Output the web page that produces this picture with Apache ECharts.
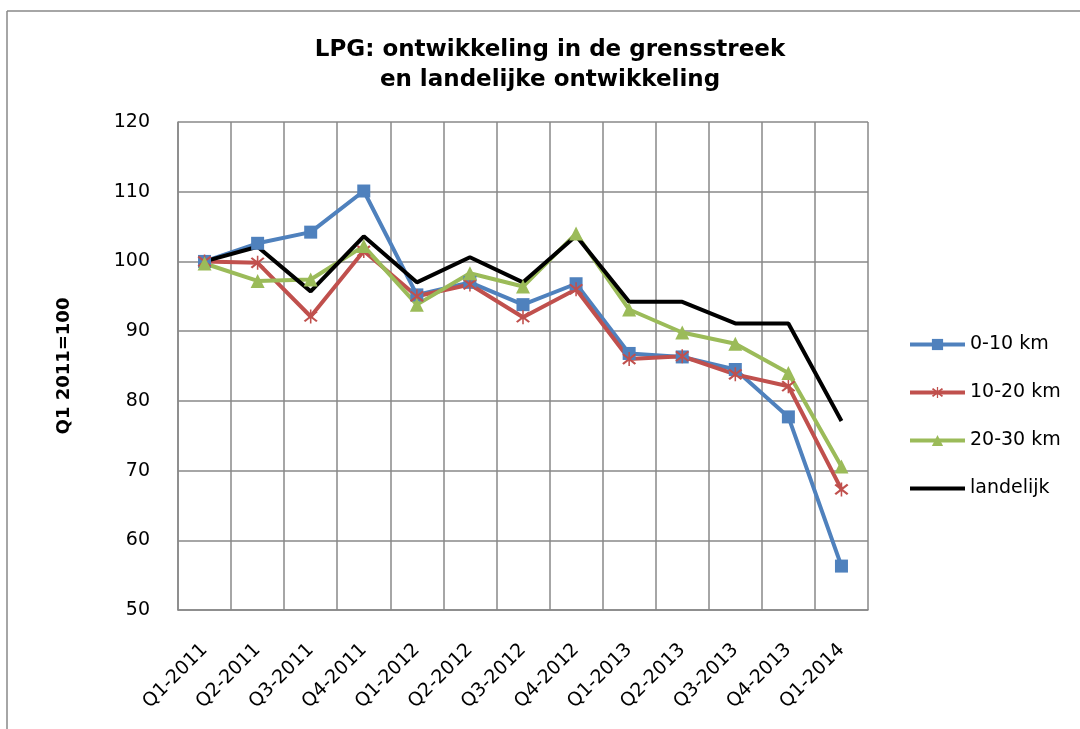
<!DOCTYPE html>
<html>
<head>
<meta charset="utf-8">
<script src="https://cdn.jsdelivr.net/npm/echarts@6/dist/echarts.min.js"></script>
<style>
  html, body { margin: 0; padding: 0; background: #fff; }
  #chart { width: 1080px; height: 729px; }
</style>
</head>
<body>
<div id="chart"></div>
<script>
// kwartalen
const categories = ['Q1-2011', 'Q2-2011', 'Q3-2011', 'Q4-2011', 'Q1-2012', 'Q2-2012', 'Q3-2012',
  'Q4-2012', 'Q1-2013', 'Q2-2013', 'Q3-2013', 'Q4-2013', 'Q1-2014']

// index, Q1 2011 = 100
const km0_10 = [100, 102.6, 104.2, 110.1, 95.2, 97.0, 93.8, 96.8, 86.8, 86.3, 84.5, 77.7, 56.3]
const km10_20 = [100, 99.8, 92.1, 101.5, 95.0, 96.7, 92.0, 96.0, 86.0, 86.4, 83.8, 82.1, 67.3]
const km20_30 = [99.7, 97.2, 97.4, 102.2, 93.8, 98.3, 96.4, 104.0, 93.1, 89.8, 88.2, 84.0, 70.6]
const landelijk = [100, 102.1, 95.7, 103.6, 97.0, 100.6, 97.0, 103.7, 94.2, 94.2, 91.1, 91.1, 77.1]

const yTicks = [50, 60, 70, 80, 90, 100, 110, 120]

const FONT = 'DejaVu Sans'
// sterretje voor 10-20 km
const asterisk = 'path://M9,0 L11,0 L11,20 L9,20 Z M1,4 L3,2 L19,16 L17,18 Z M17,2 L19,4 L3,18 L1,16 Z'

const chart = echarts.init(document.getElementById('chart'))
chart.setOption({
  animation: false,
  textStyle: { fontFamily: FONT },
  title: {
    text: 'LPG: ontwikkeling in de grensstreek\nen landelijke ontwikkeling',
    left: 545,
    textAlign: 'center',
    top: 30,
    textStyle: { fontFamily: FONT, fontSize: 23, fontWeight: 'bold', color: '#000', lineHeight: 30 }
  },
  graphic: [
    { type: 'line', shape: { x1: 7, y1: 11, x2: 1080, y2: 11 }, style: { stroke: '#888', lineWidth: 1.5 } },
    { type: 'line', shape: { x1: 7, y1: 11, x2: 7, y2: 729 }, style: { stroke: '#888', lineWidth: 1.5 } }
  ],
  legend: {
    orient: 'vertical',
    left: 903,
    top: 330,
    itemWidth: 55,
    itemHeight: 14,
    itemGap: 29,
    lineStyle: { width: 4 },
    textStyle: { fontFamily: FONT, fontSize: 19, color: '#000' },
    data: ['0-10 km', '10-20 km', '20-30 km',
      { name: 'landelijk', itemStyle: { color: 'rgba(0,0,0,0)', borderWidth: 0 } }]
  },
  grid: { left: 178, right: 212, top: 122, bottom: 119 },
  xAxis: {
    type: 'category',
    data: categories,
    boundaryGap: true,
    axisLine: { lineStyle: { color: '#888', width: 1.5 } },
    axisTick: { show: false },
    splitLine: { show: true, interval: 0, lineStyle: { color: '#888', width: 1.5 } },
    axisLabel: { interval: 0, rotate: 45, margin: 37, fontFamily: FONT, fontSize: 19, color: '#000' }
  },
  yAxis: {
    type: 'value',
    min: yTicks[0],
    max: yTicks[yTicks.length - 1],
    interval: 10,
    name: 'Q1 2011=100',
    nameLocation: 'middle',
    nameGap: 105,
    nameTextStyle: { fontFamily: FONT, fontSize: 18, fontWeight: 'bold', color: '#000' },
    axisLine: { show: true, lineStyle: { color: '#888', width: 1.5 } },
    axisTick: { show: false },
    splitLine: { lineStyle: { color: '#888', width: 1.5 } },
    axisLabel: { margin: 28, fontFamily: FONT, fontSize: 19, color: '#000' }
  },
  series: [
    {
      name: '0-10 km', type: 'line', data: km0_10,
      symbol: 'rect', symbolSize: 13,
      lineStyle: { width: 4, color: '#4F81BD' }, itemStyle: { color: '#4F81BD' }
    },
    {
      name: '10-20 km', type: 'line', data: km10_20,
      symbol: asterisk, symbolSize: 14,
      lineStyle: { width: 4, color: '#C0504D' }, itemStyle: { color: '#C0504D' }
    },
    {
      name: '20-30 km', type: 'line', data: km20_30,
      symbol: 'triangle', symbolSize: 14,
      lineStyle: { width: 4, color: '#9BBB59' }, itemStyle: { color: '#9BBB59' }
    },
    {
      name: 'landelijk', type: 'line', data: landelijk,
      symbol: 'none',
      lineStyle: { width: 4, color: '#000' }, itemStyle: { color: '#000' }
    }
  ]
})
</script>
</body>
</html>
